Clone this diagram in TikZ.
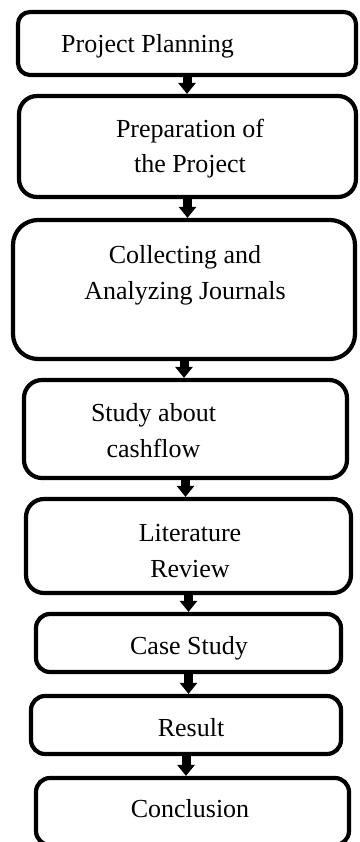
\documentclass[tikz,border=0pt]{standalone}
\usepackage{fontspec}
\setmainfont{Liberation Serif}
\usetikzlibrary{arrows.meta}

\begin{document}
\begin{tikzpicture}[x=1pt,y=-1pt,
  box/.style={draw,line width=4.2pt,rounded corners=#1,inner sep=0pt},
  box/.default=14pt,
  txt/.style={inner sep=0pt,align=center,font=\fontsize{26}{35.5}\selectfont},
  arr/.style={line width=9pt,-{Triangle[width=17pt,length=11pt]}}]
  \useasboundingbox (0,0) rectangle (359,842);
  % the boxes, top to bottom
  \node[box=12pt,minimum width=338pt,minimum height=63pt]  (plan)    at (187,43.5)   {};
  \node[box=18pt,minimum width=337pt,minimum height=101pt] (prep)    at (187.5,146.5) {};
  \node[box=25pt,minimum width=342pt,minimum height=139pt] (collect) at (184,289.5)  {};
  \node[box=18pt,minimum width=323pt,minimum height=98pt]  (cash)    at (185.5,429)  {};
  \node[box=18pt,minimum width=325pt,minimum height=94pt]  (review)  at (188.5,546)  {};
  \node[box,minimum width=305pt,minimum height=58pt]       (case)    at (188.5,643)  {};
  \node[box,minimum width=310pt,minimum height=58pt]       (result)  at (186,725)    {};
  \node[box,minimum width=313pt,minimum height=67pt]       (concl)   at (192.5,811.5) {};
  % the texts (base = last line)
  \node[txt,anchor=base west] (tplan)    at (61,53)     {Project Planning};
  \node[txt,anchor=base]      (tprep)    at (190,173)   {Preparation of\\the Project};
  \node[txt,anchor=base]      (tcollect) at (185,299)   {Collecting and\\Analyzing Journals};
  \node[txt,anchor=base]      (tcash)    at (153.5,457) {Study about\\cashflow};
  \node[txt,anchor=base]      (treview)  at (190,577)   {Literature\\Review};
  \node[txt,anchor=base]      (tcase)    at (189,654)   {Case Study};
  \node[txt,anchor=base]      (tresult)  at (191,736)   {Result};
  \node[txt,anchor=base]      (tconcl)   at (190,817)   {Conclusion};
  % the arrows
  \draw[arr] (plan.south)    -- (plan.south |- prep.north);
  \draw[arr] (prep.south)    -- (prep.south |- collect.north);
  \draw[arr] (collect.south) -- (collect.south |- cash.north);
  \draw[arr] (cash.south)    -- (cash.south |- review.north);
  \draw[arr] (review.south)  -- (review.south |- case.north);
  \draw[arr] (case.south)    -- (case.south |- result.north);
  \draw[arr] (result.south)  -- (result.south |- concl.north);
\end{tikzpicture}
\end{document}
